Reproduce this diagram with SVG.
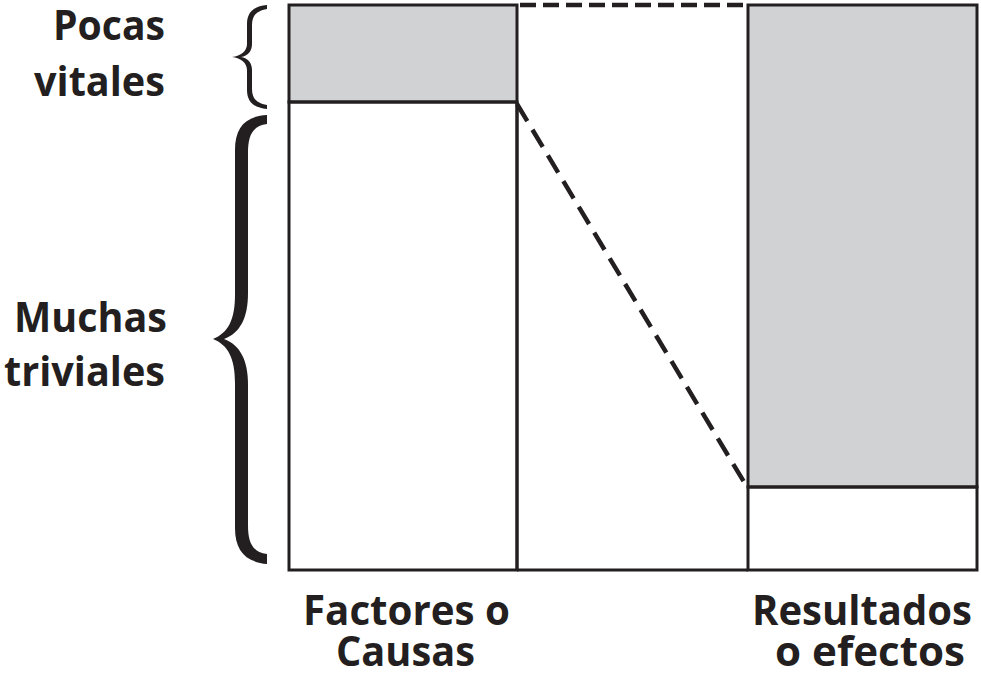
<svg xmlns="http://www.w3.org/2000/svg" width="981" height="673" viewBox="0 0 981 673">
<style>
.lbl{font-family:"Open Sans","Noto Sans",sans-serif;font-weight:bold;font-size:42px;fill:#231f20}
.box{stroke:#231f20;stroke-width:3;fill:none}
.gray{fill:#d1d2d4}
.dash{stroke:#231f20;stroke-width:4.5;fill:none}
.brace{fill:#231f20}
</style>
<rect width="981" height="673" fill="#fff"/>
<g id="left-column">
<rect class="gray" x="289" y="5" width="228" height="97"/>
<rect class="box" x="289" y="5" width="228" height="97"/>
<rect class="box" x="289" y="102" width="228" height="468"/>
</g>
<g id="middle-column">
<line class="box" x1="517" y1="102" x2="517" y2="570"/>
<line class="box" x1="517" y1="570" x2="748" y2="570"/>
</g>
<g id="right-column">
<rect class="gray" x="748" y="5" width="229" height="482"/>
<rect class="box" x="748" y="5" width="229" height="482"/>
<rect class="box" x="748" y="487" width="229" height="83"/>
</g>
<g id="connectors">
<line class="dash" x1="520" y1="5" x2="748" y2="5" stroke-dasharray="16 7"/>
<line class="dash" x1="517" y1="104" x2="747" y2="487" stroke-dasharray="20 10"/>
</g>
<g id="brace-small">
<path class="brace" d="M267,5 C254,6 247,12 247,24 L247,44 C247,51 241,56 232,57 C241,58 247,63 247,70 L247,90 C247,102 254,108 267,109 L267,105 C257,103 252,99 252,89 L252,70 C252,63 248,58 241,57 C248,56 252,51 252,44 L252,25 C252,15 257,11 267,9 Z"/>
</g>
<g id="brace-large">
<path class="brace" d="M267,115 C245,116 235,128 235,150 L235,295 C235,320 228,333 213,339 C228,345 235,358 235,383 L235,528 C235,550 245,562 267,564 L267,554 C252,552 248,542 248,525 L248,385 C248,360 240,345 224,339 C240,333 248,318 248,293 L248,153 C248,136 252,126 267,124 Z"/>
</g>
<g id="labels">
<text class="lbl" x="165" y="40" text-anchor="end" textLength="112" lengthAdjust="spacingAndGlyphs">Pocas</text>
<text class="lbl" x="165" y="96" text-anchor="end" textLength="131" lengthAdjust="spacingAndGlyphs">vitales</text>
<text class="lbl" x="167" y="332" text-anchor="end" textLength="153" lengthAdjust="spacingAndGlyphs">Muchas</text>
<text class="lbl" x="165" y="386" text-anchor="end" textLength="161" lengthAdjust="spacingAndGlyphs">triviales</text>
<text class="lbl" x="303" y="625" textLength="207" lengthAdjust="spacingAndGlyphs">Factores o</text>
<text class="lbl" x="336" y="666" textLength="139" lengthAdjust="spacingAndGlyphs">Causas</text>
<text class="lbl" x="752" y="625" textLength="220" lengthAdjust="spacingAndGlyphs">Resultados</text>
<text class="lbl" x="775" y="666" textLength="190" lengthAdjust="spacingAndGlyphs">o efectos</text>
</g>
</svg>
